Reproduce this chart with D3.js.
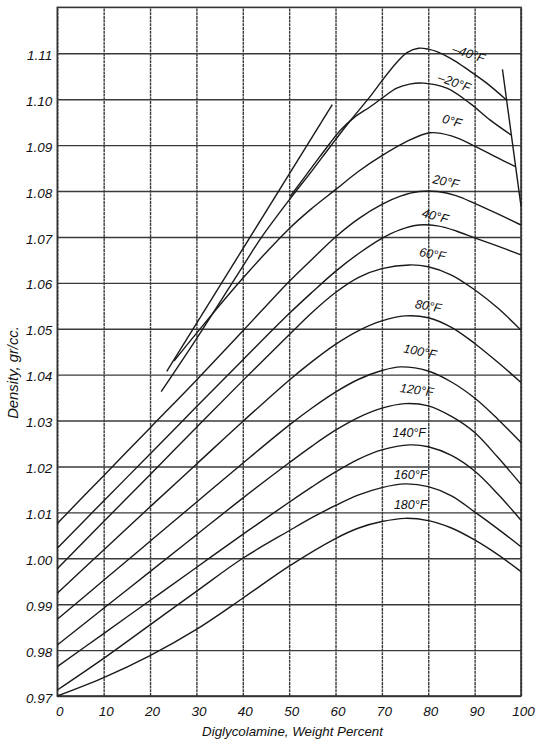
<!DOCTYPE html>
<html>
<head>
<meta charset="utf-8">
<script src="https://cdn.jsdelivr.net/npm/d3@7"></script>
<style>
  body { margin: 0; background: #fff; }
  svg { display: block; }
  text { font-family: "Liberation Sans", Arial, sans-serif; font-style: italic; fill: #111; }
</style>
</head>
<body>
<div id="chart"></div>
<script>
// ---- data (x = DGA weight %, y = density gr/cc) ----
var xTicks = [0, 10, 20, 30, 40, 50, 60, 70, 80, 90, 100];
var yTicks = [0.97, 0.98, 0.99, 1.00, 1.01, 1.02, 1.03, 1.04, 1.05, 1.06, 1.07, 1.08, 1.09, 1.10, 1.11];

var tempNames = ["\u201340\u00b0F", "\u201320\u00b0F", "0\u00b0F", "20\u00b0F", "40\u00b0F", "60\u00b0F",
                 "80\u00b0F", "100\u00b0F", "120\u00b0F", "140\u00b0F", "160\u00b0F", "180\u00b0F"];

var tM40 = [[22.4,1.0363],[30,1.0478],[40,1.0636],[44.1,1.0700],[50.2,1.0783],[55,1.0845],[58.8,1.0896],
            [63,1.0951],[67.4,1.1005],[70,1.1040],[73.2,1.1080],[75.5,1.1102],[77.9,1.1111],[80,1.1109],
            [82,1.1103],[85,1.1088],[87.6,1.1071],[90,1.1054],[92.6,1.1035],[96.8,1.0999]];
var tM20 = [[50.2,1.0788],[55,1.0853],[58.8,1.0904],[61,1.0932],[64,1.0960],[67.4,1.0983],[70,1.1002],
            [73.2,1.1024],[76,1.1033],[79,1.1035],[84,1.1024],[89,1.0991],[93.3,1.0955],[97.9,1.0922]];
var t0   = [[25.2,1.0430],[30,1.0490],[40,1.0610],[50,1.0718],[55,1.0763],[60,1.0803],[65,1.0843],
            [70,1.0877],[75,1.0906],[80.4,1.0927],[85,1.0920],[90,1.0898],[95,1.0872],[98.8,1.0853]];
var t20  = [[0,1.0076],[10,1.0180],[20,1.0284],[30,1.0388],[40,1.0495],[50,1.0603],[55,1.0652],[60,1.0700],
            [65,1.0740],[70,1.0771],[74,1.0789],[78,1.0799],[82,1.0799],[86,1.0790],[90,1.0773],[95,1.0750],[100,1.0726]];
var t40  = [[0,1.0022],[10,1.0125],[20,1.0227],[30,1.0330],[40,1.0432],[50,1.0533],[55,1.0580],[60,1.0625],
            [65,1.0664],[70,1.0697],[74,1.0716],[78,1.0726],[82,1.0724],[86,1.0713],[90,1.0698],[95,1.0680],[100,1.0661]];
var t60  = [[0,0.9977],[10,1.0080],[20,1.0182],[30,1.0285],[40,1.0387],[50,1.0487],[55,1.0536],[60,1.0579],
            [65,1.0612],[70,1.0631],[76,1.0639],[80,1.0635],[85,1.0617],[90,1.0585],[95,1.0545],[100,1.0497]];
var t80  = [[0,0.9924],[10,1.0018],[20,1.0112],[30,1.0205],[40,1.0298],[50,1.0388],[55,1.0429],[60,1.0466],
            [65,1.0496],[70,1.0517],[75,1.0528],[80,1.0524],[85,1.0503],[90,1.0468],[95,1.0427],[100,1.0383]];
var t100 = [[0,0.9867],[10,0.9952],[20,1.0037],[30,1.0122],[40,1.0207],[50,1.0290],[55,1.0328],[60,1.0362],
            [65,1.0390],[70,1.0409],[74,1.0417],[80,1.0408],[85,1.0384],[90,1.0349],[95,1.0303],[100,1.0252]];
var t120 = [[0,0.9811],[10,0.9891],[20,0.9971],[30,1.0051],[40,1.0131],[50,1.0208],[55,1.0245],[60,1.0279],
            [65,1.0307],[70,1.0327],[75,1.0337],[80,1.0332],[85,1.0309],[90,1.0274],[95,1.0220],[100,1.0161]];
var t140 = [[0,0.9764],[10,0.9836],[20,0.9908],[30,0.9980],[40,1.0052],[50,1.0122],[55,1.0156],[60,1.0188],
            [65,1.0216],[70,1.0236],[76,1.0247],[80,1.0243],[85,1.0224],[90,1.0190],[95,1.0140],[100,1.0083]];
var t160 = [[0,0.9713],[10,0.9782],[20,0.9855],[30,0.9928],[40,1.0000],[50,1.0060],[55,1.0089],[60,1.0115],
            [65,1.0138],[70,1.0154],[75,1.0162],[80,1.0156],[85,1.0136],[90,1.0101],[95,1.0064],[100,1.0025]];
var t180 = [[0,0.9700],[10,0.9740],[20,0.9788],[30,0.9845],[40,0.9913],[50,0.9983],[60,1.0043],
            [65,1.0066],[70,1.0080],[75,1.0087],[80,1.0082],[85,1.0066],[90,1.0040],[95,1.0008],[100,0.9971]];

// freezing boundary lines
var leftBoundary  = [[23.6,1.0407],[59.3,1.0988]];
var rightBoundary = [[96.0,1.1065],[100,1.0767]];

// label anchors (weight %, density) and tilt
var labelAt  = [[88.7,1.1099],[85.6,1.1036],[85.1,1.0952],[83.8,1.0820],[81.5,1.0745],[80.9,1.0662],
                [80.0,1.0549],[78.2,1.0450],[77.5,1.0366],[75.9,1.0273],[76.2,1.0182],[76.2,1.0117]];
var labelRot = [18, 20, 15, 12, 15, 10, 10, 12, 8, 0, 0, 0];

var curves = [tM40, tM20, t0, t20, t40, t60, t80, t100, t120, t140, t160, t180];

// ---- layout ----
var W = 548, H = 743;
var plotL = 57.3, plotR = 521, plotT = 7.4, plotB = 696;

var svg = d3.select("#chart").append("svg")
    .attr("width", W)
    .attr("height", H);

var x = d3.scaleLinear().domain([0, 100]).range([plotL, plotR]);
var y = d3.scaleLinear().domain([0.97, 1.12]).range([plotB, plotT]);

// grid + tick labels
var yAxis = svg.append("g")
    .attr("class", "myYaxis")
    .attr("transform", "translate(" + plotL + ",0)")
    .call(d3.axisLeft(y)
        .tickValues(yTicks)
        .tickSize(-(plotR - plotL))
        .tickPadding(5)
        .tickFormat(d3.format(".2f")));

var xAxis = svg.append("g")
    .attr("class", "myXaxis")
    .attr("transform", "translate(0," + plotB + ")")
    .call(d3.axisBottom(x)
        .tickValues(xTicks)
        .tickSize(-(plotB - plotT))
        .tickPadding(10)
        .tickFormat(d3.format("d")));

svg.selectAll(".domain").remove();
yAxis.selectAll("line").attr("stroke", "#3a3a3a").attr("stroke-width", 1.4);
xAxis.selectAll("line").attr("stroke", "#3a3a3a").attr("stroke-width", 1.4)
    .attr("stroke-dasharray", "3,0.7");
yAxis.selectAll("text").attr("font-size", 13.5).attr("dy", "0.45em");
xAxis.selectAll("text").attr("font-size", 13.5).attr("dx", 2);

// frame
svg.append("rect")
    .attr("x", plotL).attr("y", plotT)
    .attr("width", plotR - plotL).attr("height", plotB - plotT)
    .attr("fill", "none")
    .attr("stroke", "#333")
    .attr("stroke-width", 1.6);

// curves
var line = d3.line()
    .x(function(d) { return x(d[0]); })
    .y(function(d) { return y(d[1]); })
    .curve(d3.curveCatmullRom.alpha(0.5));

svg.append("g").selectAll("path.curve")
    .data(curves)
    .enter()
    .append("path")
    .attr("class", "curve")
    .attr("d", line)
    .attr("fill", "none")
    .attr("stroke", "#1a1a1a")
    .attr("stroke-width", 1.4);

var straight = d3.line()
    .x(function(d) { return x(d[0]); })
    .y(function(d) { return y(d[1]); });

svg.selectAll("path.bound")
    .data([leftBoundary, rightBoundary])
    .enter()
    .append("path")
    .attr("class", "bound")
    .attr("d", straight)
    .attr("fill", "none")
    .attr("stroke", "#1a1a1a")
    .attr("stroke-width", 1.4);

// curve labels
svg.append("g").selectAll("text.tlab")
    .data(tempNames)
    .enter()
    .append("text")
    .attr("class", "tlab")
    .attr("text-anchor", "middle")
    .attr("dominant-baseline", "central")
    .attr("font-size", 12.5)
    .attr("transform", function(d, i) {
        return "translate(" + x(labelAt[i][0]) + "," + y(labelAt[i][1]) + ") rotate(" + labelRot[i] + ")";
    })
    .text(function(d) { return d; });

// axis titles
svg.append("text")
    .attr("x", 292.5)
    .attr("y", 736)
    .attr("text-anchor", "middle")
    .attr("font-size", 13.3)
    .text("Diglycolamine, Weight Percent");

svg.append("text")
    .attr("transform", "translate(17.5,372.5) rotate(-90)")
    .attr("text-anchor", "middle")
    .attr("font-size", 14.8)
    .text("Density, gr/cc.");
</script>
</body>
</html>
